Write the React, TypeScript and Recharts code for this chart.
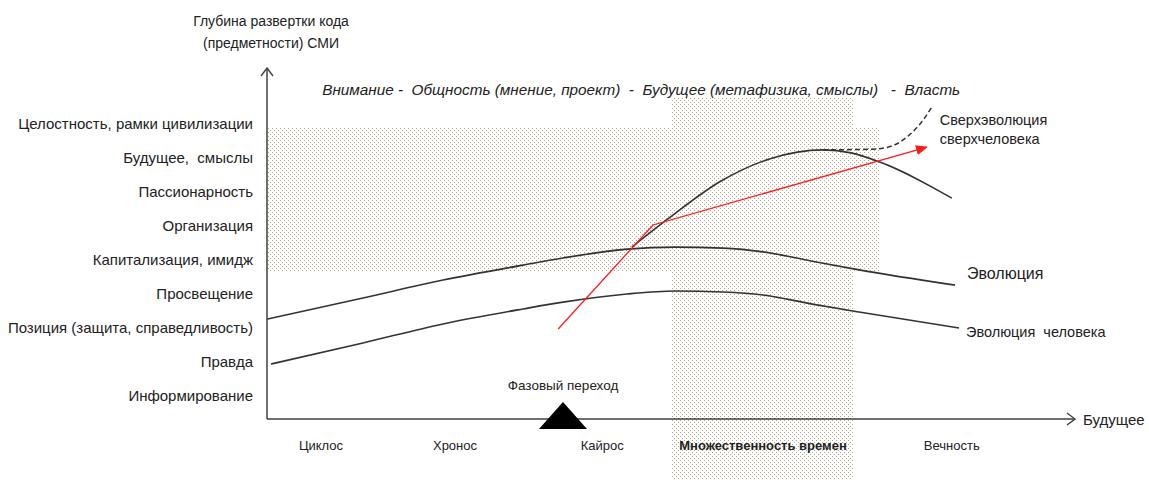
import React from 'react';
import {
  ComposedChart,
  Line,
  XAxis,
  YAxis,
  ReferenceArea,
  ReferenceDot,
  Scatter,
  LabelList,
} from 'recharts';

// levels of the vertical axis, bottom to top
const LEVEL_LABELS = [
  'Информирование',
  'Правда',
  'Позиция (защита, справедливость)',
  'Просвещение',
  'Капитализация, имидж',
  'Организация',
  'Пассионарность',
  'Будущее,  смыслы',
  'Целостность, рамки цивилизации',
];
const LEVEL_TICKS = [1, 2, 3, 4, 5, 6, 7, 8, 9];

// time axis categories
const TIME_LABELS = ['Циклос', 'Хронос', 'Кайрос', 'Множественность времен', 'Вечность'];
const TIME_TICKS = [6.75, 23.5, 41.9, 62, 85.6];

const EVOLUTION = [
  { t: 0, v: 3.26 },
  { t: 12, v: 3.88 },
  { t: 22, v: 4.41 },
  { t: 32, v: 4.85 },
  { t: 37, v: 5.06 },
  { t: 45, v: 5.32 },
  { t: 51, v: 5.38 },
  { t: 57, v: 5.35 },
  { t: 62, v: 5.24 },
  { t: 68, v: 4.97 },
  { t: 74, v: 4.71 },
  { t: 86, v: 4.26 },
];

const HUMAN = [
  { t: 0.5, v: 1.94 },
  { t: 12, v: 2.56 },
  { t: 22, v: 3.12 },
  { t: 32, v: 3.56 },
  { t: 37, v: 3.76 },
  { t: 45, v: 4.0 },
  { t: 51, v: 4.09 },
  { t: 57, v: 4.06 },
  { t: 62, v: 3.97 },
  { t: 68, v: 3.71 },
  { t: 74, v: 3.47 },
  { t: 86.5, v: 3.0 },
];

const SUPER = [
  { t: 45.6, v: 5.38 },
  { t: 50.4, v: 6.26 },
  { t: 56.6, v: 7.3 },
  { t: 62.9, v: 7.98 },
  { t: 69.5, v: 8.24 },
  { t: 73, v: 8.15 },
  { t: 76.6, v: 7.88 },
  { t: 85.6, v: 6.82 },
];

const SUPER_DASH = [
  { t: 69.5, v: 8.24 },
  { t: 75.75, v: 8.26 },
  { t: 78.2, v: 8.36 },
  { t: 80.2, v: 8.66 },
  { t: 81.8, v: 9.05 },
  { t: 83.1, v: 9.5 },
];

const RED_PATH = [
  { t: 36.4, v: 2.97 },
  { t: 48.25, v: 6.03 },
  { t: 82.5, v: 8.32 },
];

const PHASE = [{ t: 37, v: 0.3235 }];

const TOP_CAPTION = 'Внимание -  Общность (мнение, проект)  -  Будущее (метафизика, смыслы)   -  Власть';

const FONT = '"Liberation Sans", Arial, sans-serif';
const INK = '#222';
const DOTS = '#b2a78a';

const LevelTick = (props: any) => {
  const { x, y, payload } = props;
  return (
    <text
      x={x}
      y={y}
      textAnchor="end"
      dominantBaseline="central"
      fontSize={15}
      fill={INK}
      fontFamily={FONT}
      style={{ whiteSpace: 'pre' }}
    >
      {LEVEL_LABELS[payload.value - 1]}
    </text>
  );
};

const TimeTick = (props: any) => {
  const { x, y, payload, index } = props;
  const i = TIME_TICKS.indexOf(payload.value);
  return (
    <text
      x={x}
      y={y}
      textAnchor="middle"
      dominantBaseline="central"
      fontSize={13}
      fontWeight={i === 3 ? 'bold' : 'normal'}
      fill={INK}
      fontFamily={FONT}
    >
      {TIME_LABELS[i >= 0 ? i : index]}
    </text>
  );
};

const lastLabel = (len: number, render: (x: number, y: number) => React.ReactNode) => (p: any) =>
  p.index === len - 1 ? render(Number(p.x), Number(p.y)) : null;

const App: React.FC = () => {
  return (
    <div style={{ position: 'absolute', left: 0, top: 0, width: 1149, height: 485, background: '#fff' }}>
      <svg width={0} height={0} style={{ position: 'absolute' }}>
        <defs>
          <pattern id="dots" width="4" height="4" patternUnits="userSpaceOnUse">
            <rect x="0" y="0" width="1" height="1" fill={DOTS} />
            <rect x="2" y="2" width="1" height="1" fill={DOTS} />
          </pattern>
          <marker
            id="openArrow"
            viewBox="0 0 10 14"
            refX="9"
            refY="7"
            markerWidth="10"
            markerHeight="14"
            markerUnits="userSpaceOnUse"
            orient="auto-start-reverse"
          >
            <path d="M1,1 L9,7 L1,13" fill="none" stroke="#404040" strokeWidth="1.4" />
          </marker>
          <marker
            id="redArrow"
            viewBox="0 0 12 10"
            refX="11"
            refY="5"
            markerWidth="12"
            markerHeight="10"
            markerUnits="userSpaceOnUse"
            orient="auto"
          >
            <path d="M0,0 L12,5 L0,10 Z" fill="#ff1a1a" />
          </marker>
        </defs>
      </svg>
      <ComposedChart width={1149} height={485} margin={{ top: 68, right: 74, bottom: 0, left: 7 }}>
        <XAxis
          type="number"
          dataKey="t"
          domain={[0, 101]}
          ticks={TIME_TICKS}
          interval={0}
          tick={<TimeTick />}
          tickLine={false}
          tickSize={0}
          tickMargin={26}
          height={66}
          axisLine={{ stroke: '#404040', strokeWidth: 1.5, markerEnd: 'url(#openArrow)' } as any}
          label={{
            content: (p: any) => {
              const vb = p.viewBox;
              return (
                <text x={vb.x + vb.width + 8} y={vb.y} dominantBaseline="central" fontSize={15} fill={INK} fontFamily={FONT}>
                  Будущее
                </text>
              );
            },
          }}
        />
        <YAxis
          type="number"
          dataKey="v"
          domain={[0.3235, 10.647]}
          ticks={LEVEL_TICKS}
          interval={0}
          tick={<LevelTick />}
          tickLine={false}
          tickSize={0}
          tickMargin={14}
          width={260}
          axisLine={{ stroke: '#404040', strokeWidth: 1.5, markerStart: 'url(#openArrow)' } as any}
          label={{
            content: (p: any) => {
              const vb = p.viewBox;
              const cx = vb.x + vb.width + 4;
              return (
                <g fontSize={14} fill={INK} fontFamily={FONT} textAnchor="middle">
                  <text x={cx} y={vb.y - 47} dominantBaseline="central">Глубина развертки кода</text>
                  <text x={cx} y={vb.y - 25} dominantBaseline="central">(предметности) СМИ</text>
                </g>
              );
            },
          }}
        />

        <ReferenceArea x1={0} x2={76.6} y1={4.65} y2={8.91} fill="url(#dots)" fillOpacity={1} stroke="none" ifOverflow="visible" />
        <ReferenceArea x1={50.6} x2={73.25} y1={-1.47} y2={9.79} fill="url(#dots)" fillOpacity={1} stroke="none" ifOverflow="visible" />

        <ReferenceDot
          x={6.9}
          y={10.0}
          r={0}
          fill="none"
          stroke="none"
          label={{
            content: (p: any) => (
              <text
                x={p.viewBox.x}
                y={p.viewBox.y}
                dominantBaseline="central"
                fontSize={15.3}
                fontStyle="italic"
                fill={INK}
                fontFamily={FONT}
                style={{ whiteSpace: 'pre' }}
              >
                {TOP_CAPTION}
              </text>
            ),
          }}
        />

        <Line data={EVOLUTION} dataKey="v" type="monotone" stroke="#333" strokeWidth={1.6} dot={false} isAnimationActive={false}>
          <LabelList
            dataKey="v"
            content={lastLabel(EVOLUTION.length, (x, y) => (
              <text x={x + 12} y={y - 12} dominantBaseline="central" fontSize={16} fill={INK} fontFamily={FONT}>
                Эволюция
              </text>
            ))}
          />
        </Line>
        <Line data={HUMAN} dataKey="v" type="monotone" stroke="#333" strokeWidth={1.6} dot={false} isAnimationActive={false}>
          <LabelList
            dataKey="v"
            content={lastLabel(HUMAN.length, (x, y) => (
              <text x={x + 7} y={y + 4} dominantBaseline="central" fontSize={14.5} fill={INK} fontFamily={FONT} style={{ whiteSpace: 'pre' }}>
                Эволюция  человека
              </text>
            ))}
          />
        </Line>
        <Line data={SUPER} dataKey="v" type="monotone" stroke="#333" strokeWidth={1.6} dot={false} isAnimationActive={false} />
        <Line
          data={SUPER_DASH}
          dataKey="v"
          type="monotone"
          stroke="#333"
          strokeWidth={1.5}
          strokeDasharray="5 3"
          dot={false}
          isAnimationActive={false}
        >
          <LabelList
            dataKey="v"
            content={lastLabel(SUPER_DASH.length, (x, y) => (
              <g fontSize={14.5} fill={INK} fontFamily={FONT}>
                <text x={x + 8} y={y + 13} dominantBaseline="central">Сверхэволюция</text>
                <text x={x + 8} y={y + 32} dominantBaseline="central">сверхчеловека</text>
              </g>
            ))}
          />
        </Line>
        <Line
          data={RED_PATH}
          dataKey="v"
          type="linear"
          stroke="#ff1a1a"
          strokeWidth={1.3}
          dot={false}
          markerEnd="url(#redArrow)"
          isAnimationActive={false}
        />

        <Scatter
          data={PHASE}
          dataKey="v"
          isAnimationActive={false}
          shape={(p: any) => (
            <path d={`M${p.cx},${p.cy - 17} L${p.cx + 24},${p.cy + 10} L${p.cx - 24},${p.cy + 10} Z`} fill="#000" />
          )}
        >
          <LabelList
            dataKey="v"
            content={(p: any) => (
              <text x={Number(p.x) + Number(p.width || 0) / 2} y={Number(p.y) + Number(p.height || 0) / 2 - 34} textAnchor="middle" dominantBaseline="central" fontSize={13.5} fill={INK} fontFamily={FONT}>
                Фазовый переход
              </text>
            )}
          />
        </Scatter>
      </ComposedChart>
    </div>
  );
};

export default App;
